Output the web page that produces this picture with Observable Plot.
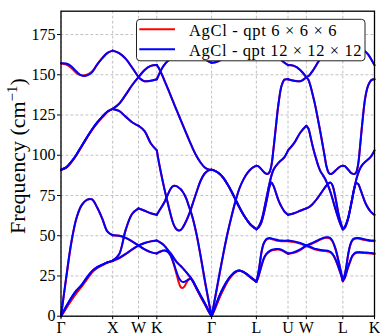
<!DOCTYPE html>
<html>
<head>
<meta charset="utf-8">
<script src="https://cdn.jsdelivr.net/npm/d3@7"></script>
<script src="https://cdn.jsdelivr.net/npm/@observablehq/plot@0.6"></script>
<style>
  html, body { margin: 0; padding: 0; background: #fff; }
  #chart { width: 380px; height: 336px; }
</style>
</head>
<body>
<div id="chart"></div>
<script>
// ---- path (wave-vector distance along Γ-X-W-K-Γ-L-U-W-L-K); boundary points repeated ----
const q = [
  0, 0.1, 0.2, 0.3, 0.4, 0.5, 0.6, 0.7, 0.8, 0.9, 1,
  1, 1.125, 1.25, 1.375, 1.5,
  1.5, 1.618, 1.736, 1.8536,
  1.8536, 1.8865, 1.9252, 1.9639, 2.0026, 2.0413, 2.0800, 2.1187, 2.1574, 2.1961, 2.2348, 2.2735, 2.3122, 2.3509, 2.3896, 2.4283, 2.4670, 2.5057, 2.5444, 2.6218, 2.6992, 2.7766, 2.8540, 2.9142,
  2.9142, 2.9894, 3.0668, 3.1442, 3.2216, 3.2990, 3.3764, 3.4538, 3.5312, 3.6085, 3.6860, 3.7802,
  3.7802, 3.8117, 3.8407, 3.8794, 3.9181, 3.9568, 3.9955, 4.0342, 4.0729, 4.1116, 4.1503, 4.2083, 4.2664, 4.3245, 4.3926,
  4.3926, 4.5105, 4.6284, 4.7462,
  4.7462, 4.7888, 4.8275, 4.8662, 4.9049, 4.9436, 4.9823, 5.0210, 5.0597, 5.0984, 5.1371, 5.1758, 5.2145, 5.2532, 5.3112, 5.3693, 5.4176, 5.4533,
  5.4533, 5.4912, 5.5202, 5.5589, 5.5976, 5.6363, 5.6750, 5.7137, 5.7524, 5.7911, 5.8298, 5.8878, 5.9459, 6.0040, 6.0658
];
const tickQ = [0, 1, 1.5, 1.8536, 2.9142, 3.7802, 4.3926, 4.7462, 5.4533, 6.0658];
const tickLabels = ["Γ", "X", "W", "K", "Γ", "L", "U", "W", "L", "K"];
const yTicks = [0, 25, 50, 75, 100, 125, 150, 175];
const seriesNames = ["AgCl - qpt 6 × 6 × 6", "AgCl - qpt 12 × 12 × 12"];

// ---- qpt 12x12x12 (blue) branches, cm^-1 ----
const blue1 = [
  0, 6, 11.5, 16, 19.5, 24, 28, 30.5, 32, 33.5, 34.5,
  34.5, 36.3, 38.7, 41.5, 44,
  44, 41.5, 39.8, 39,
  39.0, 39.6, 40.2, 40.7, 40.8, 40.5, 39.6, 37.8, 35.0, 31.5, 27.5, 24.3, 22.3, 21.3, 21.4, 22.1, 22.8, 23.2, 22.0, 17.4, 12.7, 8.2, 3.4, 0,
  0, 6.4, 12.8, 18, 22.3, 25.5, 27.7, 28.4, 27.5, 25.8, 23.8, 21.5,
  21.5, 24, 27, 31.5, 35.5, 38, 39.5, 40.5, 41.2, 41.5, 41.7, 41.8, 41.3, 40.3, 39,
  39, 39.8, 41.5, 44,
  44, 43.5, 43, 42.5, 42, 41.7, 41.4, 41.2, 41, 40.9, 40.8, 40.5, 40, 38.8, 35.5, 30.5, 26, 22,
  22, 24, 27, 31, 34.5, 37.5, 39, 39.7, 39.8, 39.8, 39.7, 39.6, 39.5, 39.3, 39
];
const blue2 = [
  0, 6, 11.5, 16, 19.5, 24, 28, 30.5, 32, 33.5, 34.5,
  50.3, 50, 48.7, 46.5, 44,
  44, 45.5, 46.5, 47,
  47.0, 46.5, 45.7, 44.8, 43.7, 42.2, 40.6, 39.2, 37.4, 35.5, 33.8, 32.5, 31.3, 30.0, 28.6, 27.2, 25.7, 24.1, 22.4, 17.8, 13.1, 8.6, 3.7, 0,
  0, 6.4, 12.8, 18, 22.3, 25.5, 27.7, 28.4, 27.5, 25.8, 23.8, 21.5,
  21.5, 26, 31.5, 40, 45, 47.3, 48.3, 48.6, 48.3, 48, 47.6, 47.2, 47, 46.9, 47,
  47, 46.5, 45.5, 44,
  44, 44.5, 45, 45.6, 46.2, 46.8, 47.4, 48, 48.5, 48.9, 49.1, 49, 48.4, 46.8, 42, 34.5, 27.5, 22,
  22, 26, 31, 39, 44.5, 47.3, 48.3, 48.6, 48.6, 48.4, 48.1, 47.7, 47.3, 47.1, 47
];
const blue3 = [
  0, 24, 46, 61, 69, 72.3, 72.6, 67.5, 60.5, 52.5, 50.3,
  34.5, 38.5, 53.5, 63.5, 67,
  67, 65.5, 64, 63,
  63.0, 64.8, 66.8, 68.8, 71.0, 73.8, 76.5, 79.0, 80.6, 81.1, 80.8, 80.0, 79.0, 77.5, 75.5, 72.7, 69.0, 65.5, 61.5, 51.0, 38.0, 23.5, 10.0, 0,
  0, 13, 26.5, 39.5, 51.5, 62, 71.5, 79.5, 85, 89, 91.8, 93.5,
  93.5, 93.2, 92.5, 91.2, 89.8, 88.7, 88.4, 89.5, 94, 104, 115.5, 132, 143, 147, 147.2,
  147.2, 146.3, 146, 148.5,
  148.5, 146.7, 143, 138, 133, 127, 120.5, 114, 107, 100, 93, 89.3, 88.3, 88.8, 90.5, 92.2, 93.2, 93.5,
  93.5, 93.2, 92.4, 91, 89.5, 88.6, 88.4, 89.5, 95, 107, 120, 136, 143.5, 146.7, 147.2
];
const blue4 = [
  91, 92.5, 96, 100.5, 105.8, 111, 116, 120.4, 124, 127.2, 128.8,
  128.8, 127.5, 124, 120.5, 118.3,
  118.3, 115, 107.5, 103,
  103.0, 97.0, 90.5, 84.5, 78.8, 73.5, 68.5, 63.5, 59.0, 55.8, 54.0, 53.3, 53.5, 54.8, 57.0, 59.5, 62.5, 65.8, 69.5, 77.0, 84.0, 88.5, 90.6, 91.0,
  91, 90.2, 88.5, 85.8, 82, 77.5, 72.5, 67.5, 63, 59.3, 56.3, 54,
  54, 54.7, 56, 58.5, 63, 68.5, 74.5, 80.5, 83, 81, 77.5, 72, 68, 65, 63,
  63, 64, 65.5, 67,
  67, 67.6, 68.5, 69.6, 71, 72.5, 74.2, 76, 77.8, 79.6, 81.2, 82.5, 83, 81.3, 73.5, 63.5, 57.5, 54,
  54, 55, 57, 61, 67, 73.5, 79.5, 82.8, 82, 79, 75.5, 70.5, 67, 64.5, 63
];
const blue5 = [
  91, 92.5, 96, 100.5, 105.8, 111, 116, 120.4, 124, 127.2, 128.8,
  165, 163.5, 160, 154.5, 148.5,
  148.5, 153, 155.5, 156,
  156.0, 154.5, 152.0, 149.3, 146.3, 143.4, 140.4, 137.4, 134.3, 131.2, 128.2, 125.2, 122.2, 119.2, 116.2, 113.3, 110.3, 107.4, 104.6, 99.5, 95.5, 92.6, 91.2, 91.0,
  91, 90.2, 88.5, 85.8, 82, 77.5, 72.5, 67.5, 63, 59.3, 56.3, 54,
  54, 55, 56.5, 59.5, 64.5, 70.5, 76.5, 82.5, 87.5, 91, 93, 95.3, 97, 98.8, 103,
  103, 107.5, 114, 118.3,
  118.3, 116.5, 111.5, 106, 101.2, 97, 93, 90, 88, 86, 83.5, 80.5, 77, 73, 66.5, 60.5, 56.3, 54,
  54, 55.5, 57.5, 61.5, 67, 73, 79.5, 85, 89, 92, 94, 96, 97.5, 99.5, 103
];
const blue6 = [
  157.2, 157, 155.3, 152, 149.6, 149.5, 151.5, 156.3, 160.3, 163.6, 165,
  128.8, 132, 137.5, 143.5, 148.5,
  148.5, 146, 146.3, 147.2,
  147.2, 149.5, 152.2, 154.5, 156.3, 157.8, 158.8, 160.0, 161.0, 162.0, 163.0, 163.8, 164.5, 165.0, 165.3, 165.5, 165.5, 165.3, 165.0, 164.0, 162.3, 160.2, 158.3, 157.5,
  157.5, 157.8, 158.8, 160, 161.5, 163, 164.3, 165.4, 166.4, 167.2, 167.7, 168,
  168, 168, 167.8, 167.5, 167, 166.5, 166, 165.3, 164.5, 163.5, 162.5, 160.8, 159, 157.5, 156,
  156, 155.5, 153, 148.5,
  148.5, 149.2, 150.6, 152.3, 154.2, 156.2, 158.3, 160.3, 162, 163.5, 164.7, 165.6, 166.3, 166.9, 167.5, 167.8, 168, 168,
  168, 168, 168, 167.8, 167.6, 167.3, 167, 166.7, 166.4, 166, 165.5, 164.5, 162.5, 159.5, 156
];

// ---- qpt 6x6x6 (red) branches, cm^-1 ----
const red1 = [
  0, 5, 10, 14.5, 18.5, 22.8, 27.3, 30, 31.8, 33.3, 34.3,
  34.3, 36, 38.5, 41.3, 44,
  44, 41.5, 39.8, 39,
  39.0, 39.6, 40.2, 40.7, 40.8, 40.5, 39.6, 37.8, 34.6, 30.6, 26.3, 21.5, 18.3, 17.5, 18.5, 20.8, 22.8, 23.5, 22.0, 17.0, 12.2, 7.7, 3.0, 0,
  0, 5.4, 11.5, 16.8, 21.5, 25, 27.4, 28.3, 27.4, 25.7, 23.6, 21.3,
  21.2, 23.7, 26.7, 31.1, 35.1, 37.6, 39.1, 40.1, 40.8, 41.1, 41.3, 41.4, 40.9, 39.9, 38.7,
  38.7, 39.4, 41.1, 43.6,
  43.6, 43.1, 42.6, 42.1, 41.6, 41.3, 41, 40.8, 40.6, 40.5, 40.4, 40.1, 39.6, 38.4, 35.1, 30.1, 25.7, 21.7,
  21.7, 23.7, 26.6, 30.6, 34.1, 37.1, 38.6, 39.3, 39.4, 39.4, 39.3, 39.2, 39.1, 38.9, 38.6
];
const red2 = [
  0, 5, 10, 14.5, 18.5, 22.8, 27.3, 30, 31.8, 33.3, 34.3,
  50.3, 50, 48.7, 46.5, 44,
  44, 45.5, 46.5, 47,
  47.0, 46.5, 45.7, 44.8, 43.7, 42.2, 40.6, 39.2, 37.4, 35.5, 33.8, 32.5, 31.3, 30.0, 28.6, 27.2, 25.7, 24.1, 22.4, 17.4, 12.6, 8.0, 3.2, 0,
  0, 5.4, 11.5, 16.8, 21.5, 25, 27.4, 28.3, 27.4, 25.7, 23.6, 21.3,
  21.2, 25.6, 31.1, 39.6, 44.6, 46.9, 47.9, 48.2, 47.9, 47.6, 47.2, 46.8, 46.6, 46.5, 46.6,
  46.6, 46.1, 45.1, 43.6,
  43.6, 44.1, 44.6, 45.2, 45.8, 46.4, 47, 47.6, 48.1, 48.5, 48.7, 48.6, 48, 46.4, 41.6, 34.1, 27.2, 21.7,
  21.7, 25.6, 30.6, 38.6, 44.1, 46.9, 47.9, 48.2, 48.2, 48, 47.7, 47.3, 46.9, 46.7, 46.6
];
const red3 = [
  0, 23.5, 45.5, 61, 69, 72.3, 72.6, 67.5, 60.5, 52.5, 50.3,
  34.5, 38.5, 53.5, 63.5, 67,
  67, 65.5, 64, 63,
  63.0, 64.8, 66.8, 68.8, 71.0, 73.8, 76.5, 79.0, 80.6, 81.1, 80.8, 80.0, 79.0, 77.5, 75.5, 72.7, 69.0, 65.5, 61.5, 51.0, 37.5, 23.0, 9.5, 0,
  0, 12.3, 25.8, 39, 51.2, 62, 71.5, 79.5, 85, 89, 91.8, 93.5,
  93.5, 93.2, 92.5, 91.2, 89.8, 88.7, 88.4, 89.5, 94, 104, 115.5, 132, 143, 147, 147.2,
  147.2, 146.3, 146, 148.5,
  148.5, 146.7, 143, 138, 133, 127, 120.5, 114, 107, 100, 93, 89.3, 88.3, 88.8, 90.5, 92.2, 93.2, 93.5,
  93.5, 93.2, 92.4, 91, 89.5, 88.6, 88.4, 89.5, 95, 107, 120, 136, 143.5, 146.7, 147.2
];
const red4 = [
  91, 92.3, 95.7, 100.2, 105.5, 110.8, 115.8, 120, 123.7, 127, 128.8,
  128.8, 127.5, 124, 120.5, 118.3,
  118.3, 115, 107.5, 103,
  103.0, 97.0, 90.5, 84.5, 78.8, 73.5, 68.5, 63.5, 59.0, 55.8, 54.0, 53.3, 53.5, 54.8, 57.0, 59.5, 62.5, 65.8, 69.5, 77.0, 84.0, 88.5, 90.6, 91.0,
  91, 90.2, 88.5, 85.8, 82, 77.5, 72.5, 67.5, 63, 59.3, 56.3, 54,
  54, 54.7, 56, 58.5, 63, 68.5, 74.5, 80.5, 83, 81, 77.5, 72, 68, 65, 63,
  63, 64, 65.5, 67,
  67, 67.6, 68.5, 69.6, 71, 72.5, 74.2, 76, 77.8, 79.6, 81.2, 82.5, 83, 81.3, 73.5, 63.5, 57.5, 54,
  54, 55, 57, 61, 67, 73.5, 79.5, 82.8, 82, 79, 75.5, 70.5, 67, 64.5, 63
];
const red5 = [
  91, 92.3, 95.7, 100.2, 105.5, 110.8, 115.8, 120, 123.7, 127, 128.8,
  165, 163.5, 160, 154.5, 148.5,
  148.5, 153, 155.5, 156,
  156.0, 154.5, 152.0, 149.3, 146.3, 143.4, 140.4, 137.4, 134.3, 131.2, 128.2, 125.2, 122.2, 119.2, 116.2, 113.3, 110.3, 107.4, 104.6, 99.5, 95.5, 92.6, 91.2, 91.0,
  91, 90.2, 88.5, 85.8, 82, 77.5, 72.5, 67.5, 63, 59.3, 56.3, 54,
  54, 55, 56.5, 59.5, 64.5, 70.5, 76.5, 82.5, 87.5, 91, 93, 95.3, 97, 98.8, 103,
  103, 107.5, 114, 118.3,
  118.3, 116.5, 111.5, 106, 101.2, 97, 93, 90, 88, 86, 83.5, 80.5, 77, 73, 66.5, 60.5, 56.3, 54,
  54, 55.5, 57.5, 61.5, 67, 73, 79.5, 85, 89, 92, 94, 96, 97.5, 99.5, 103
];
const red6 = [
  157, 156.3, 154.3, 151, 149.5, 150, 152, 156.5, 160.5, 163.6, 165,
  128.8, 132, 137.5, 143.5, 148.5,
  148.5, 146, 146.3, 147.2,
  147.2, 149.5, 152.2, 154.5, 156.3, 157.8, 158.8, 160.0, 161.0, 162.0, 163.0, 163.8, 164.5, 165.0, 165.3, 165.5, 165.5, 165.3, 165.0, 164.0, 162.3, 160.2, 158.3, 157.5,
  157.5, 157.8, 158.8, 160, 161.5, 163, 164.3, 165.4, 166.4, 167.2, 167.7, 168,
  168, 168, 167.8, 167.5, 167, 166.5, 166, 165.3, 164.5, 163.5, 162.5, 160.8, 159, 157.5, 156,
  156, 155.5, 153, 148.5,
  148.5, 149.2, 150.6, 152.3, 154.2, 156.2, 158.3, 160.3, 162, 163.5, 164.7, 165.6, 166.3, 166.9, 167.5, 167.8, 168, 168,
  168, 168, 168, 167.8, 167.6, 167.3, 167, 166.7, 166.4, 166, 165.5, 164.5, 162.5, 159.5, 156
];

const blueBands = [blue1, blue2, blue3, blue4, blue5, blue6];
const redBands = [red1, red2, red3, red4, red5, red6];

// segment index: a repeated q starts a new segment
const segId = [];
{ let s = 0; q.forEach((v, i) => { if (i > 0 && v === q[i - 1]) s++; segId.push(s); }); }

function toRows(bands, tag) {
  const rows = [];
  bands.forEach((b, k) => {
    if (b.length !== q.length) console.warn(tag, k, b.length);
    b.forEach((f, i) => rows.push({ q: q[i], f, key: tag + k + "-" + segId[i] }));
  });
  return rows;
}
const redRows = toRows(redBands, "r");
const blueRows = toRows(blueBands, "b");
const labelOf = new Map(tickQ.map((t, i) => [t, tickLabels[i]]));

const chart = Plot.plot({
  width: 380,
  height: 336,
  marginLeft: 60.5,
  marginRight: 6,
  marginTop: 10.7,
  marginBottom: 20.3,
  x: { domain: [0, tickQ[tickQ.length - 1]] },
  y: { domain: [0, 189.5] },
  style: { fontFamily: '"Liberation Serif", serif', fontSize: "16px", background: "#fff", color: "#000" },
  marks: [
    Plot.gridY(yTicks, { stroke: "#b0b0b0", strokeOpacity: 1, strokeWidth: 0.8, strokeDasharray: "2.8,2.2" }),
    Plot.gridX(tickQ, { stroke: "#b0b0b0", strokeOpacity: 1, strokeWidth: 0.8, strokeDasharray: "2.8,2.2" }),
    Plot.line(redRows, { x: "q", y: "f", z: "key", stroke: "#ff0000", strokeWidth: 2, curve: "catmull-rom" }),
    Plot.line(blueRows, { x: "q", y: "f", z: "key", stroke: "#0000ff", strokeWidth: 2, curve: "catmull-rom" }),
    Plot.axisY(yTicks, { tickSize: 3.5, tickPadding: 2, label: null, fontSize: 16 }),
    Plot.axisX(tickQ, { tickSize: 3.5, tickPadding: 2, label: null, fontSize: 16, tickFormat: d => labelOf.get(d) }),
    Plot.frame({ stroke: "#000", strokeWidth: 1.3 })
  ]
});
document.getElementById("chart").appendChild(chart);

// legend and y label (overlay in the same svg)
const svg = d3.select(chart);
const lg = svg.append("g").attr("text-anchor", "start");
lg.append("rect").attr("x", 136.5).attr("y", 19.3).attr("width", 228.5).attr("height", 41.5)
  .attr("rx", 3.5).attr("fill", "#fff").attr("stroke", "#222").attr("stroke-width", 1);
const rowsY = [29.3, 49.3];
const colors = ["#ff0000", "#0000ff"];
const lens = [147.5, 172.5];
seriesNames.forEach((name, i) => {
  lg.append("line").attr("x1", 139.3).attr("x2", 175).attr("y1", rowsY[i]).attr("y2", rowsY[i])
    .attr("stroke", colors[i]).attr("stroke-width", 2);
  lg.append("text").attr("x", 189).attr("y", rowsY[i] + 6.3)
    .attr("text-anchor", "start")
    .attr("font-family", '"Liberation Serif", serif').attr("font-size", 16.5)
    .attr("textLength", lens[i]).attr("lengthAdjust", "spacing")
    .attr("fill", "#000").text(name);
});
const yl = svg.append("text").attr("transform", "translate(24.5,156) rotate(-90)")
  .attr("text-anchor", "middle").attr("font-family", '"Liberation Serif", serif')
  .attr("font-size", 22).attr("fill", "#000");
yl.append("tspan").text("Frequency (cm");
yl.append("tspan").attr("font-size", 15).attr("dy", -8).text("−1");
yl.append("tspan").attr("dy", 8).text(")");
</script>
</body>
</html>
